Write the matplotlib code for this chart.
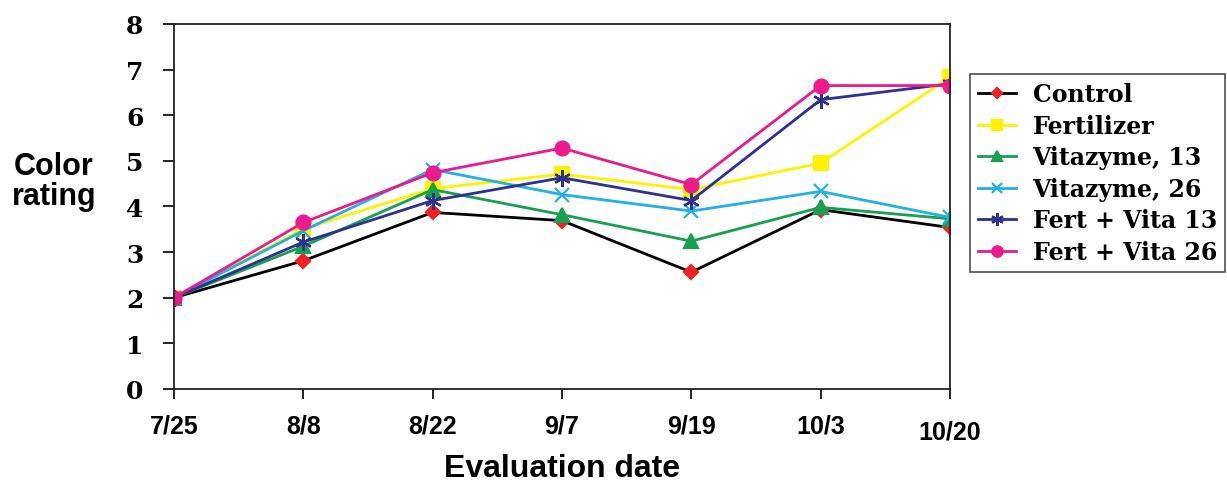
import matplotlib.pyplot as plt
import matplotlib.transforms as mtransforms

# Color rating per treatment across evaluation dates
dates = ["7/25", "8/8", "8/22", "9/7", "9/19", "10/3", "10/20"]
control = [2.0, 2.81, 3.87, 3.69, 2.56, 3.93, 3.54]
fertilizer = [2.0, 3.51, 4.39, 4.71, 4.37, 4.95, 6.83]
vitazyme_13 = [2.0, 3.13, 4.37, 3.82, 3.24, 3.98, 3.73]
vitazyme_26 = [2.0, 3.47, 4.81, 4.26, 3.90, 4.33, 3.76]
fert_vita_13 = [2.0, 3.22, 4.13, 4.63, 4.13, 6.34, 6.69]
fert_vita_26 = [2.0, 3.65, 4.74, 5.28, 4.48, 6.65, 6.65]

series = [
    ("Control", control, "black", "#ee2222", "D", 7),
    ("Fertilizer", fertilizer, "#fff200", "#fff200", "s", 10),
    ("Vitazyme, 13", vitazyme_13, "#17a04f", "#17a04f", "^", 10),
    ("Vitazyme, 26", vitazyme_26, "#20b2e6", "#20b2e6", "x", 10),
    ("Fert + Vita 13", fert_vita_13, "#2e3192", "#2e3192", (6, 2, 0), 12),
    ("Fert + Vita 26", fert_vita_26, "#ec1a8c", "#ec1a8c", "o", 10),
]

serif = ["DejaVu Serif"]
sans = ["Liberation Sans", "DejaVu Sans"]

fig = plt.figure(figsize=(12.27, 4.85), dpi=100)
ax = fig.add_axes([0.1418, 0.1959, 0.6324, 0.7526])

x = range(len(dates))
for label, vals, lc, mc, mk, ms in series:
    ax.plot(x, vals, color=lc, lw=2.0, marker=mk, ms=ms,
            markerfacecolor=mc, markeredgecolor=mc, mew=1.6, label=label)

ax.set_xlim(0, len(dates) - 1)
ax.set_ylim(0, 8)
ax.set_xticks(list(x))
ax.set_xticklabels(dates, fontfamily=sans, fontweight="bold", fontsize=18)
ax.set_yticks(range(9))
ax.set_yticklabels([str(v) for v in range(9)], fontfamily=serif,
                   fontweight="bold", fontsize=18)
ax.tick_params(axis="x", direction="out", length=7, width=1.2, pad=11)
ax.tick_params(axis="y", direction="out", length=8, width=1.2, pad=14)

# last date label sits a little lower
last = ax.get_xticklabels()[-1]
last.set_transform(last.get_transform() +
                   mtransforms.ScaledTranslation(0, -4 / 72, fig.dpi_scale_trans))

for sp in ax.spines.values():
    sp.set_linewidth(1.3)
    sp.set_color("#222222")

ax.set_xlabel("Evaluation date", fontfamily=sans, fontweight="bold",
              fontsize=23, labelpad=7)
fig.text(0.044, 0.625, "Color\nrating", fontfamily=sans, fontweight="bold",
         fontsize=22, ha="center", va="center", linespacing=1.0)

leg = ax.legend(loc="upper left", bbox_to_anchor=(970 / 1227, 1 - 75 / 485),
                bbox_transform=fig.transFigure, frameon=True, fancybox=False,
                prop={"family": serif, "weight": "bold", "size": 17},
                handlelength=1.6, handletextpad=0.7, labelspacing=0.32,
                borderpad=0.35, borderaxespad=0)
leg.get_frame().set_edgecolor("#222222")
leg.get_frame().set_linewidth(1.2)
for h in leg.legend_handles:
    h.set_markersize(h.get_markersize() * 0.75)

fig.savefig("out.png", dpi=100)
